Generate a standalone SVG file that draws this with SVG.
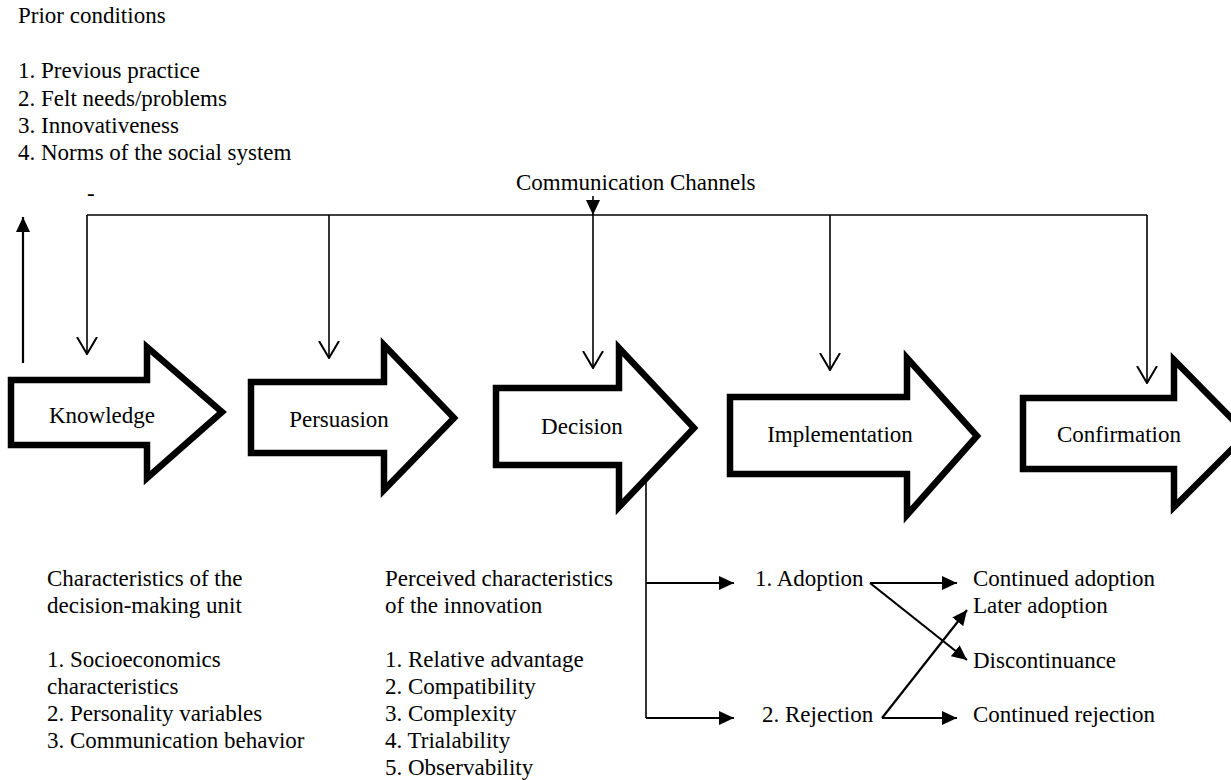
<svg xmlns="http://www.w3.org/2000/svg" width="1231" height="780" viewBox="0 0 1231 780">
<style>
text{font-family:"Liberation Serif","Times New Roman",serif;font-size:23px;fill:#000}
.mid{text-anchor:middle}
.stage{fill:#fff;stroke:#000;stroke-width:6.5;stroke-linejoin:miter}
.thin{fill:none;stroke:#000;stroke-width:1.6}
.med{fill:none;stroke:#000;stroke-width:2.2}
</style>
<defs>
<marker id="fill" markerUnits="userSpaceOnUse" viewBox="0 0 15 14" markerWidth="15" markerHeight="14" refX="15" refY="7" orient="auto">
<path d="M0,0 L15,7 L0,14 Z" fill="#000"/>
</marker>
<marker id="vee" markerUnits="userSpaceOnUse" viewBox="0 0 18 22" markerWidth="18" markerHeight="22" refX="17" refY="11" orient="auto">
<path d="M0,1 L17,11 L0,21" fill="none" stroke="#000" stroke-width="2"/>
</marker>
</defs>
<rect width="1231" height="780" fill="#fff"/>

<g id="prior">
<text x="18" y="23">Prior conditions</text>
<text x="18" y="78">1. Previous practice</text>
<text x="18" y="106">2. Felt needs/problems</text>
<text x="18" y="133">3. Innovativeness</text>
<text x="18" y="160">4. Norms of the social system</text>
</g>
<g id="channels">
<text x="516" y="190">Communication Channels</text>
<text x="87" y="201">-</text>
</g>

<g id="knowledge">
<polygon class="stage" points="11,380 147,380 147,347 222,412 147,478 147,445 11,445"/>
<text class="mid" x="102" y="423">Knowledge</text>
</g>
<g id="persuasion">
<polygon class="stage" points="251,382 384,382 384,345 454,418 384,490 384,453 251,453"/>
<text class="mid" x="339" y="427">Persuasion</text>
</g>
<g id="decision">
<polygon class="stage" points="496,388 619,388 619,348 694,428 619,507 619,465 496,465"/>
<text class="mid" x="582" y="434">Decision</text>
</g>
<g id="implementation">
<polygon class="stage" points="730,397 907,397 907,358 977,436 907,515 907,474 730,474"/>
<text class="mid" x="840" y="442">Implementation</text>
</g>
<g id="confirmation">
<polygon class="stage" points="1023,398 1174,398 1174,360 1247,434 1174,507 1174,469 1023,469"/>
<text class="mid" x="1119" y="442">Confirmation</text>
</g>

<g id="dmu">
<text x="47" y="586">Characteristics of the</text>
<text x="47" y="613">decision-making unit</text>
<text x="47" y="667">1. Socioeconomics</text>
<text x="47" y="694">characteristics</text>
<text x="47" y="721">2. Personality variables</text>
<text x="47" y="748">3. Communication behavior</text>
</g>
<g id="perceived">
<text x="385" y="586">Perceived characteristics</text>
<text x="385" y="613">of the innovation</text>
<text x="385" y="667">1. Relative advantage</text>
<text x="385" y="694">2. Compatibility</text>
<text x="385" y="721">3. Complexity</text>
<text x="385" y="748">4. Trialability</text>
<text x="385" y="775">5. Observability</text>
</g>
<g id="outcomes">
<text x="755" y="586">1. Adoption</text>
<text x="762" y="722">2. Rejection</text>
<text x="973" y="586">Continued adoption</text>
<text x="973" y="613">Later adoption</text>
<text x="973" y="668">Discontinuance</text>
<text x="973" y="722">Continued rejection</text>
</g>

<g id="connectors">
<path class="thin" d="M87,215 H1147"/>
<path class="thin" d="M87,215 V354" marker-end="url(#vee)"/>
<path class="thin" d="M329,215 V358" marker-end="url(#vee)"/>
<path class="thin" d="M593,215 V368" marker-end="url(#vee)"/>
<path class="thin" d="M830,215 V370" marker-end="url(#vee)"/>
<path class="thin" d="M1147,215 V383" marker-end="url(#vee)"/>
<path class="thin" d="M593,196 V215" marker-end="url(#fill)"/>
<path class="med" d="M23,363 V217" marker-end="url(#fill)"/>
<path class="thin" d="M646,479 V718"/>
<path class="med" d="M646,583 H734" marker-end="url(#fill)"/>
<path class="med" d="M646,718 H734" marker-end="url(#fill)"/>
<path class="med" d="M870,583 H957" marker-end="url(#fill)"/>
<path class="med" d="M870,583 L967,660" marker-end="url(#fill)"/>
<path class="med" d="M882,718 H957" marker-end="url(#fill)"/>
<path class="med" d="M882,718 L967,610" marker-end="url(#fill)"/>
</g>
</svg>
